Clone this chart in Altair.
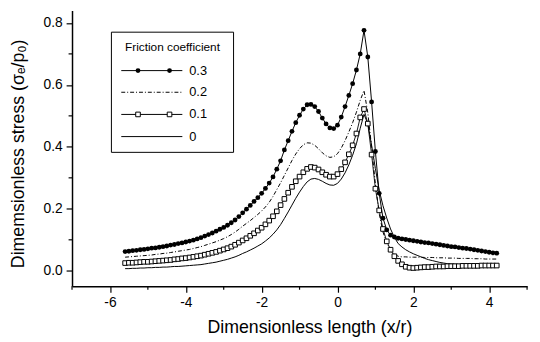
import altair as alt
import pandas as pd

# sample positions along the dimensionless length (x/r)
X = [-5.6, -5.5, -5.4, -5.3, -5.2, -5.1, -5.0, -4.9, -4.8, -4.7,
     -4.6, -4.5, -4.4, -4.3, -4.2, -4.1, -4.0, -3.9, -3.8, -3.7,
     -3.6, -3.5, -3.4, -3.3, -3.2, -3.1, -3.0, -2.9, -2.8, -2.7,
     -2.6, -2.5, -2.4, -2.3, -2.2, -2.1, -2.0, -1.9, -1.8, -1.7,
     -1.6, -1.5, -1.4, -1.3, -1.2, -1.1, -1.0, -0.9, -0.8, -0.7,
     -0.6, -0.5, -0.4, -0.3, -0.2, -0.1, 0.0, 0.1, 0.2, 0.3,
     0.4, 0.5, 0.6, 0.7, 0.8, 0.9, 1.0, 1.1, 1.2, 1.3,
     1.4, 1.5, 1.6, 1.7, 1.8, 1.9, 2.0, 2.1, 2.2, 2.3,
     2.4, 2.5, 2.6, 2.7, 2.8, 2.9, 3.0, 3.1, 3.2, 3.3,
     3.4, 3.5, 3.6, 3.7, 3.8, 3.9, 4.0, 4.1, 4.2]

# friction coefficient 0.3 (filled circles)
Y03 = [0.062, 0.063, 0.065, 0.066, 0.068, 0.069, 0.071, 0.073, 0.074, 0.076,
       0.078, 0.080, 0.083, 0.085, 0.088, 0.090, 0.093, 0.096, 0.099, 0.103,
       0.107, 0.112, 0.117, 0.122, 0.128, 0.134, 0.140, 0.147, 0.155, 0.164,
       0.175, 0.187, 0.199, 0.211, 0.224, 0.236, 0.250, 0.266, 0.283, 0.303,
       0.328, 0.355, 0.390, 0.420, 0.450, 0.478, 0.502, 0.522, 0.536, 0.537,
       0.530, 0.514, 0.493, 0.474, 0.461, 0.459, 0.470, 0.496, 0.530, 0.566,
       0.604, 0.648, 0.700, 0.776, 0.690, 0.545, 0.385, 0.250, 0.170, 0.132,
       0.115, 0.109, 0.105, 0.103, 0.101, 0.099, 0.097, 0.095, 0.093, 0.091,
       0.090, 0.088, 0.086, 0.084, 0.082, 0.080, 0.078, 0.077, 0.075, 0.073,
       0.072, 0.070, 0.068, 0.066, 0.064, 0.062, 0.060, 0.058, 0.057]

# friction coefficient 0.2 (dash-dot line)
Y02 = [0.044, 0.045, 0.046, 0.047, 0.048, 0.049, 0.050, 0.051, 0.053, 0.054,
       0.056, 0.057, 0.059, 0.061, 0.063, 0.065, 0.067, 0.069, 0.072, 0.075,
       0.078, 0.082, 0.086, 0.090, 0.094, 0.099, 0.104, 0.110, 0.117, 0.125,
       0.134, 0.144, 0.153, 0.162, 0.172, 0.182, 0.193, 0.206, 0.221, 0.240,
       0.262, 0.284, 0.308, 0.332, 0.356, 0.377, 0.394, 0.407, 0.413, 0.412,
       0.405, 0.394, 0.381, 0.371, 0.366, 0.368, 0.378, 0.396, 0.420, 0.448,
       0.478, 0.512, 0.550, 0.582, 0.510, 0.400, 0.280, 0.185, 0.125, 0.090,
       0.068, 0.054, 0.047, 0.045, 0.045, 0.044, 0.044, 0.044, 0.044, 0.043,
       0.043, 0.043, 0.042, 0.042, 0.042, 0.041, 0.041, 0.041, 0.040, 0.040,
       0.040, 0.040, 0.039, 0.039, 0.039, 0.038, 0.038, 0.038, 0.038]

# friction coefficient 0.1 (open squares)
Y01 = [0.025, 0.026, 0.026, 0.027, 0.028, 0.029, 0.029, 0.030, 0.031, 0.032,
       0.033, 0.034, 0.035, 0.037, 0.038, 0.040, 0.041, 0.043, 0.045, 0.047,
       0.049, 0.052, 0.055, 0.058, 0.061, 0.065, 0.069, 0.073, 0.078, 0.084,
       0.091, 0.098, 0.105, 0.113, 0.121, 0.130, 0.139, 0.150, 0.162, 0.176,
       0.192, 0.212, 0.232, 0.252, 0.271, 0.289, 0.304, 0.318, 0.329, 0.335,
       0.333, 0.327, 0.318, 0.310, 0.304, 0.304, 0.312, 0.328, 0.350, 0.376,
       0.405, 0.443, 0.495, 0.522, 0.475, 0.375, 0.265, 0.195, 0.135, 0.095,
       0.068, 0.047, 0.032, 0.021, 0.013, 0.010, 0.009, 0.010, 0.011, 0.012,
       0.012, 0.013, 0.014, 0.014, 0.014, 0.015, 0.015, 0.015, 0.015, 0.016,
       0.016, 0.016, 0.016, 0.016, 0.017, 0.017, 0.017, 0.017, 0.017]

# friction coefficient 0 (solid line)
Y00 = [0.007, 0.007, 0.008, 0.008, 0.009, 0.009, 0.010, 0.010, 0.011, 0.011,
       0.012, 0.012, 0.013, 0.014, 0.014, 0.015, 0.016, 0.017, 0.018, 0.019,
       0.020, 0.022, 0.024, 0.026, 0.028, 0.031, 0.034, 0.037, 0.041, 0.045,
       0.050, 0.056, 0.061, 0.067, 0.073, 0.080, 0.087, 0.096, 0.106, 0.118,
       0.132, 0.149, 0.169, 0.190, 0.212, 0.234, 0.254, 0.272, 0.287, 0.296,
       0.298, 0.295, 0.289, 0.282, 0.277, 0.276, 0.282, 0.296, 0.316, 0.342,
       0.373, 0.410, 0.460, 0.505, 0.475, 0.405, 0.330, 0.260, 0.210, 0.170,
       0.135, 0.108, 0.088, 0.077, 0.068, 0.061, 0.055, 0.050, 0.045, 0.040,
       0.036, 0.033, 0.030, 0.027, 0.025, 0.023, 0.022, 0.021, 0.020, 0.019,
       0.018, 0.018, 0.017, 0.017, 0.017, 0.016, 0.016, 0.016, 0.016]

X_MAJOR = [-6, -4, -2, 0, 2, 4]
X_MINOR = [-7, -5, -3, -1, 1, 3, 5]
Y_MAJOR = [0.0, 0.2, 0.4, 0.6, 0.8]
Y_MINOR = [0.1, 0.3, 0.5, 0.7]

LEGEND_TITLE = "Friction coefficient"
LEGEND_LABELS = ["0.3", "0.2", "0.1", "0"]

FONT = "Liberation Sans"

def frame(ys):
    return pd.DataFrame({"x": X, "y": ys})

xscale = alt.Scale(domain=[-7, 5], nice=False, zero=False)
yscale = alt.Scale(domain=[-0.05, 0.84], nice=False, zero=False)

xenc = alt.X("x:Q", scale=xscale,
             axis=alt.Axis(values=X_MAJOR, title="Dimensionless length (x/r)",
                           labelExpr="'' + datum.value", grid=False,
                           tickSize=6, tickWidth=1.2, domainWidth=1.5,
                           domainColor="black", tickColor="black",
                           labelFontSize=14, labelPadding=4, labelFont=FONT,
                           labelColor="black",
                           titleFont=FONT, titleFontSize=18, titleFontWeight="normal",
                           titleColor="black", titleX=241, titleY=33))
yenc = alt.Y("y:Q", scale=yscale,
             axis=alt.Axis(values=Y_MAJOR, title="Dimemsionless stress (σₑ/p₀)",
                           format=".1f", grid=False,
                           tickSize=6, tickWidth=1.2, domainWidth=1.5,
                           domainColor="black", tickColor="black",
                           labelFontSize=14, labelPadding=4, labelFont=FONT,
                           labelColor="black",
                           titleFont=FONT, titleFontSize=18, titleFontWeight="normal",
                           titleColor="black", titleX=-45, titleY=145))

line0 = alt.Chart(frame(Y00)).mark_line(color="black", strokeWidth=1).encode(x=xenc, y=yenc)
line2 = alt.Chart(frame(Y02)).mark_line(color="black", strokeWidth=1,
                                        strokeDash=[4, 2, 1, 2]).encode(x="x:Q", y="y:Q")
line1 = alt.Chart(frame(Y01)).mark_line(color="black", strokeWidth=0.9).encode(x="x:Q", y="y:Q")
pts1 = alt.Chart(frame(Y01)).mark_point(shape="square", size=22, filled=False,
                                        color="black", strokeWidth=1, fill="white",
                                        opacity=1).encode(x="x:Q", y="y:Q")
line3 = alt.Chart(frame(Y03)).mark_line(color="black", strokeWidth=1).encode(x="x:Q", y="y:Q")
pts3 = alt.Chart(frame(Y03)).mark_point(shape="circle", size=24, filled=True,
                                        color="black", opacity=1).encode(x="x:Q", y="y:Q")

minor_x = alt.Chart(pd.DataFrame({"v": X_MINOR})).mark_rule(
    color="black", strokeWidth=1.2).encode(x="v:Q", y=alt.value(280), y2=alt.value(283.5))
minor_y = alt.Chart(pd.DataFrame({"v": Y_MINOR})).mark_rule(
    color="black", strokeWidth=1.2).encode(y="v:Q", x=alt.value(0), x2=alt.value(-3.5))

one = pd.DataFrame({"a": [0]})
box = alt.Chart(one).mark_rect(fill="white", stroke="black", strokeWidth=1).encode(
    x=alt.value(40), x2=alt.value(164), y=alt.value(22), y2=alt.value(144))
ltitle = alt.Chart(one).mark_text(font=FONT, fontSize=12, align="center",
                                  baseline="middle", color="black").encode(
    x=alt.value(102), y=alt.value(37), text=alt.value(LEGEND_TITLE))

legend_layers = []
ly = [61, 83, 105.5, 128]
dashes = [None, [4, 2, 1, 2], None, None]
for i, lab in enumerate(LEGEND_LABELS):
    kw = {}
    if dashes[i]:
        kw["strokeDash"] = dashes[i]
    legend_layers.append(alt.Chart(one).mark_rule(color="black", strokeWidth=1, **kw).encode(
        x=alt.value(50), x2=alt.value(112), y=alt.value(ly[i])))
    legend_layers.append(alt.Chart(one).mark_text(font=FONT, fontSize=13, align="left",
                                                  baseline="middle", color="black").encode(
        x=alt.value(119), y=alt.value(ly[i]), text=alt.value(lab)))
for px in [67, 99]:
    legend_layers.append(alt.Chart(one).mark_point(shape="circle", size=24, filled=True,
                                                   color="black", opacity=1).encode(
        x=alt.value(px), y=alt.value(ly[0])))
    legend_layers.append(alt.Chart(one).mark_point(shape="square", size=22, filled=False,
                                                   color="black", fill="white", opacity=1,
                                                   strokeWidth=1).encode(
        x=alt.value(px), y=alt.value(ly[2])))

chart = alt.layer(line0, line2, line1, pts1, line3, pts3, minor_x, minor_y,
                  box, ltitle, *legend_layers).properties(
    width=462, height=280,
    autosize=alt.AutoSizeParams(type="none"),
    padding={"left": 65, "top": 0, "right": 5, "bottom": 54},
    background="white",
).configure_view(stroke=None)

chart.save("out.html", embed_options={"renderer": "svg", "actions": False})
